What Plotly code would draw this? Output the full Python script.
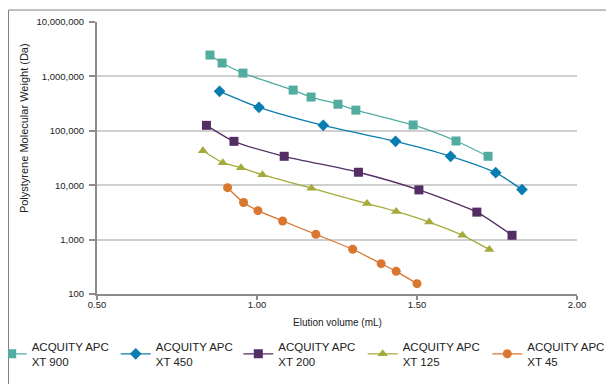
import plotly.graph_objects as go

xt900_x = [0.853, 0.891, 0.956, 1.113, 1.169, 1.253, 1.309, 1.488, 1.622, 1.722]
xt900_y = [2470000, 1760000, 1150000, 560000, 417000, 308000, 240000, 128000, 65000, 34000]

xt450_x = [0.883, 1.006, 1.207, 1.433, 1.605, 1.746, 1.828]
xt450_y = [532000, 270000, 126000, 64000, 34000, 17000, 8300]

xt200_x = [0.842, 0.928, 1.085, 1.317, 1.506, 1.687, 1.797]
xt200_y = [126000, 64000, 34000, 17300, 8200, 3200, 1200]

xt125_x = [0.831, 0.893, 0.950, 1.017, 1.170, 1.344, 1.435, 1.538, 1.642, 1.726]
xt125_y = [43000, 26000, 21000, 15600, 8800, 4600, 3300, 2100, 1200, 660]

xt45_x = [0.908, 0.958, 1.003, 1.080, 1.184, 1.299, 1.388, 1.435, 1.500]
xt45_y = [9000, 4800, 3400, 2200, 1250, 664, 361, 261, 155]

names = ["ACQUITY APC<br>XT 900", "ACQUITY APC<br>XT 450", "ACQUITY APC<br>XT 200",
         "ACQUITY APC<br>XT 125", "ACQUITY APC<br>XT 45"]
colors = ["#52ADA0", "#0A7DB0", "#542D64", "#A5AA3A", "#D97730"]
symbols = ["square", "diamond", "square", "triangle-up", "circle"]
sizes = [9, 9, 9, 9, 9]

y_tickvals = [100, 1000, 10000, 100000, 1000000, 10000000]
y_ticktext = ["100", "1,000", "10,000", "100,000", "1,000,000", "10,000,000"]
x_tickvals = [0.5, 1.0, 1.5, 2.0]
x_ticktext = ["0.50", "1.00", "1.50", "2.00"]

x_title = "Elution volume (mL)"
y_title = "Polystyrene Molecular Weight (Da)"

series = [(xt900_x, xt900_y), (xt450_x, xt450_y), (xt200_x, xt200_y),
          (xt125_x, xt125_y), (xt45_x, xt45_y)]

legend_ids = ["legend", "legend2", "legend3", "legend4", "legend5"]
legend_x = [-0.2194, 0.039, 0.2944, 0.5535, 0.8131]

fig = go.Figure()
for (xs, ys), n, c, s, sz, lg in zip(series, names, colors, symbols, sizes, legend_ids):
    fig.add_trace(go.Scatter(
        x=xs, y=ys, name=n, mode="lines+markers", legend=lg,
        line=dict(color=c, width=1.3, shape="spline", smoothing=0.6),
        marker=dict(color=c, symbol=s, size=sz),
    ))

font = "Liberation Sans, Arial, sans-serif"
legend_cfg = {}
for lg, lx in zip(legend_ids, legend_x):
    legend_cfg[lg] = dict(orientation="h", xref="paper", yref="paper",
                          x=lx, y=-0.141, xanchor="left", yanchor="top",
                          font=dict(size=11.5), itemwidth=30,
                          bgcolor="rgba(0,0,0,0)")

fig.update_layout(
    width=614, height=384,
    margin=dict(l=89, r=45, t=14, b=98, autoexpand=False),
    paper_bgcolor="white", plot_bgcolor="white",
    font=dict(family=font, size=10, color="#222"),
    xaxis=dict(range=[0.5, 2.0], tickvals=x_tickvals, ticktext=x_ticktext,
               showgrid=False, showline=True, linecolor="#8C8C8C", linewidth=2,
               ticks="outside", ticklen=4, tickcolor="#8C8C8C", tickwidth=2,
               zeroline=False, tickfont=dict(size=9.5), automargin=False,
               ticklabelstandoff=-3),
    yaxis=dict(type="log", range=[2, 7], tickvals=y_tickvals, ticktext=y_ticktext,
               showgrid=True, gridcolor="#CFCFCF", gridwidth=1.5,
               showline=True, linecolor="#8C8C8C", linewidth=2,
               ticks="outside", ticklen=6, tickcolor="#8C8C8C", tickwidth=2,
               zeroline=False, tickfont=dict(size=9.5), automargin=False,
               ticklabelstandoff=3),
    annotations=[
        dict(text=x_title, xref="paper", yref="paper", x=0.5, y=-0.1055,
             showarrow=False, font=dict(size=10), xanchor="center", yanchor="middle"),
        dict(text=y_title, xref="paper", yref="paper", x=-0.152, y=0.61,
             showarrow=False, font=dict(size=11), textangle=-90,
             xanchor="center", yanchor="middle"),
    ],
    shapes=[dict(type="rect", xref="paper", yref="paper",
                 x0=-0.1844, x1=1.2, y0=-0.5, y1=1.044,
                 line=dict(color="#808080", width=1), fillcolor="rgba(0,0,0,0)",
                 layer="above")],
    showlegend=True,
    **legend_cfg,
)

fig.write_html("out.html")
